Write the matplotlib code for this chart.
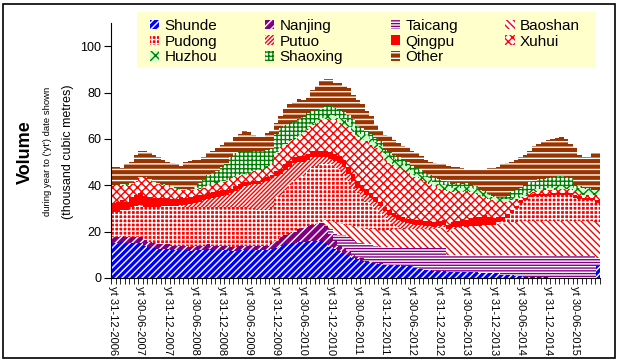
#volumes por regiao - grafico de area empilhada (barras sem espaco)
import numpy as np
import matplotlib
matplotlib.use('Agg')
import matplotlib.pyplot as plt
from matplotlib.patches import Rectangle

plt.rcParams['font.family'] = ['Liberation Sans', 'DejaVu Sans']
plt.rcParams['hatch.linewidth'] = 1.0

#rotulos do eixo x (a cada 6 meses)
rotulos = ['yt 31-12-2006', 'yt 30-06-2007', 'yt 31-12-2007', 'yt 30-06-2008',
           'yt 31-12-2008', 'yt 30-06-2009', 'yt 31-12-2009', 'yt 30-06-2010',
           'yt 31-12-2010', 'yt 30-06-2011', 'yt 31-12-2011', 'yt 30-06-2012',
           'yt 31-12-2012', 'yt 30-06-2013', 'yt 31-12-2013', 'yt 30-06-2014',
           'yt 31-12-2014', 'yt 30-06-2015']

#valores mensais (mil m3), dez/2006 ate nov/2015
shunde = [15, 15, 15.5, 15, 15, 15,
          15, 14, 13.5, 13, 12.5, 12.5,
          12.5, 12, 12, 12, 12, 11.5,
          12, 12, 12, 12.5, 12, 12,
          12, 12, 11.5, 11.5, 12, 12,
          12, 12, 12, 12, 12, 12.5,
          13, 14, 14.5, 15, 15, 15.5,
          15.5, 16, 16, 16, 16, 15,
          13.5, 12.5, 11.5, 11, 10, 8.5,
          8, 7.5, 7, 6.5, 6.5, 6,
          5.5, 5.5, 5.5, 5.5, 5, 5,
          5, 4.5, 4, 3.5, 3.5, 3,
          3, 3, 2.5, 2.5, 2.5, 2.5,
          2.5, 2.5, 2.5, 2, 2, 2,
          2, 2, 1.5, 1.5, 1.5, 1,
          1, 0.5, 0.3, 0.3, 0.3, 0.3,
          0.3, 0.2, 0.2, 0.2, 0.2, 0.2,
          0.2, 0.2, 0.2, 0.2, 0.2, 5]
nanjing = [2.5, 2.5, 2.5, 2.5, 2.5, 2.5,
           2.5, 2.5, 2, 2, 2, 2,
           2, 2, 2, 2, 2, 2,
           2, 2, 2, 2, 2, 2,
           2, 2, 2, 2, 2, 2,
           2, 2, 2, 2, 2, 2.5,
           3, 3.5, 4, 4.5, 5, 5.5,
           6, 6.5, 7, 7.5, 7.5, 7,
           5.5, 3.5, 2.5, 2, 1.5, 1.5,
           1, 1, 0.5, 0.5, 0.5, 0.3,
           0.3, 0.2, 0.2, 0.1, 0.1, 0.1,
           0, 0, 0, 0, 0, 0,
           0, 0, 0, 0, 0, 0,
           0, 0, 0, 0, 0, 0,
           0, 0, 0, 0, 0, 0,
           0, 0, 0, 0, 0, 0,
           0, 0, 0, 0, 0, 0,
           0, 0, 0, 0, 0, 0]
taicang = [0, 0, 0, 0, 0, 0,
           0, 0, 0, 0, 0, 0,
           0, 0, 0, 0, 0, 0,
           0, 0, 0, 0, 0, 0,
           0, 0, 0, 0, 0, 0,
           0, 0, 0, 0, 0, 0,
           0, 0, 0, 0, 0, 0,
           0, 0, 0, 0, 0.5, 1,
           2, 3.5, 4.5, 5.5, 6, 6.5,
           6, 6.5, 7, 7.5, 7, 7,
           7.5, 7.5, 7.5, 7.5, 8, 8,
           8, 8.5, 9, 9.5, 9.5, 10,
           10, 10, 7.5, 7.5, 7.5, 7.5,
           7.5, 7.5, 7.5, 8, 8, 8,
           8, 8, 8.5, 8.5, 8.5, 9,
           9, 9.5, 9.5, 9.5, 9.5, 9.5,
           9.5, 9.5, 9.5, 9.5, 9.5, 9.5,
           9.5, 9.5, 9.5, 9.5, 9.5, 3.5]
baoshan = [0, 0, 0, 0, 0, 0,
           0, 0, 0, 0, 0, 0,
           0, 0, 0, 0, 0, 0,
           0, 0, 0, 0, 0, 0,
           0, 0, 0, 0, 0, 0,
           0, 0, 0, 0, 0, 0,
           0, 0, 0, 0, 0, 0,
           0, 0, 0, 0, 0.5, 2,
           3.5, 4.5, 5, 5, 5.5, 6,
           6.5, 6.5, 6.5, 6.5, 7, 7,
           7.5, 7.5, 8, 8, 8, 8,
           8, 8, 8, 8, 8, 8,
           8.5, 9, 10, 11, 11.5, 12,
           12, 12.5, 12.5, 12.5, 13, 13,
           13, 13.5, 13.5, 14, 14, 14,
           14.5, 14.5, 15, 15, 15, 15,
           15, 15, 15, 15, 15, 15,
           15, 15, 15, 15, 15, 15.5]
pudong = [11, 11, 11.5, 12, 13, 13.5,
          14, 14, 15, 15.5, 16, 16.5,
          16.5, 17, 17, 17, 16.5, 17,
          16.5, 16.5, 16.5, 16, 16.5, 16.5,
          16.5, 16.5, 17, 17, 16.5, 16.5,
          16, 16, 15.5, 15.5, 15.5, 15.5,
          19, 18.5, 19.5, 20.5, 22, 22,
          22.5, 23.5, 25, 25, 24.5, 24,
          24.5, 24, 23.5, 21.5, 19, 16.5,
          15.5, 13.5, 12, 10.5, 9, 7.7,
          5, 3.5, 2, 1, 0.5, 0,
          0, 0, 0, 0, 0, 0,
          0, 0, 0, 0, 0, 0,
          0, 0, 0, 0, 0, 0,
          0, 0.5, 1, 2, 4, 6,
          8, 9, 10, 10.5, 10.5, 10.5,
          10.5, 11, 11, 11, 11, 11,
          10, 9.5, 9, 9, 9, 8.5]
putuo = [0, 0, 0, 0, 0, 0,
         0, 0, 0, 0, 0, 0,
         0, 0, 0, 0.5, 1, 1.5,
         2, 2.5, 3, 3.5, 4, 4.5,
         5, 5.5, 6, 7, 8, 9,
         10, 10.5, 11, 12, 12.5, 12.5,
         9, 9, 8.5, 8, 7.5, 7,
         6, 5, 4, 3.5, 3, 3,
         2.5, 2.5, 2.5, 3, 3, 3,
         2, 2.5, 3, 3, 3, 3,
         3, 3, 3, 3, 2.5, 2.5,
         2.5, 2, 2, 1.5, 1.5, 1,
         1, 1, 1, 1, 0.5, 0.5,
         0, 0, 0, 0, 0, 0,
         0, 0, 0, 0, 0, 0,
         0, 0, 0, 0, 0, 0,
         0, 0, 0, 0, 0, 0,
         0, 0, 0, 0, 0, 0]
qingpu = [4, 4.5, 4, 3.5, 4.5, 5,
          5, 5, 4.5, 4, 4, 3.5,
          3.5, 3, 3, 3.5, 3, 3,
          3, 3, 2.5, 2.5, 2.5, 2.5,
          2.5, 2, 2, 2, 2, 2,
          1.5, 1.5, 1.5, 1.5, 1.5, 1.5,
          2, 2, 2.5, 2.5, 2.5, 2.5,
          2.5, 2.5, 3, 3, 3, 3,
          3, 3, 3, 3, 3, 3,
          3, 2.5, 2.5, 2, 2, 2,
          2, 2, 2, 2, 2, 2,
          2, 2, 2, 2, 2, 2,
          2, 2, 2, 2, 2.5, 3,
          3, 3.5, 4, 4, 4, 3.5,
          3, 2.5, 2, 1.5, 1.5, 1,
          1, 1, 1, 1, 1, 1,
          1, 1, 1, 1, 1, 1,
          1, 1, 1, 1, 1, 1]
xuhui = [7, 6.5, 6.5, 7, 5.5, 5.5,
         6.5, 7.5, 7, 6.5, 6, 5.5,
         5, 5, 4.5, 3, 3.5, 3,
         2.5, 2.5, 3, 3.5, 3.5, 3.5,
         3.5, 4, 4.5, 4, 3.5, 3,
         3.5, 4, 4.5, 4, 4.5, 4.5,
         8, 9, 8.5, 8, 8, 8.5,
         9.5, 10.5, 11, 12, 13, 13.5,
         14, 14.5, 14.5, 15, 17, 18,
         19, 20, 20.5, 21, 21, 21.5,
         20, 20.5, 20.5, 20.5, 20.5, 20,
         19, 18.5, 17.5, 17, 16, 15.5,
         14, 13, 14.5, 13, 13, 11.5,
         12.5, 11, 10, 9.5, 8, 7.5,
         7.5, 6.5, 6.5, 5.5, 4, 3,
         1.5, 1, 1, 1, 1.2, 1.5,
         1.7, 1.3, 1.8, 1.8, 1.8, 1.8,
         1.3, 1.3, 1.3, 1.3, 1.3, 2.5]
huzhou = [0.5, 0.5, 0.5, 0.5, 0.5, 0.5,
          0.5, 0.5, 0.5, 0.5, 0.5, 0.5,
          0.5, 0.5, 0.5, 0.5, 0.5, 0.5,
          0.3, 0.3, 0.3, 0.3, 0.3, 0.3,
          0.3, 0.3, 0.3, 0.3, 0.3, 0.3,
          0.3, 0.3, 0.3, 0.3, 0.3, 0.3,
          0.5, 0.5, 0.5, 0.5, 0.5, 0.5,
          1, 1, 1, 1, 1, 1.5,
          2, 2, 2, 2.5, 2.5, 2.5,
          2, 2, 2.5, 2.5, 2.5, 2.5,
          2.5, 2.5, 2.5, 2.5, 2.5, 2.5,
          2, 2, 2, 2, 2, 2,
          2, 2, 2, 2, 2, 2,
          2, 2, 2, 2, 2, 2,
          1.5, 1.5, 1, 1, 1, 1,
          1, 1, 1, 1, 1, 1,
          1, 1, 1, 1, 1, 1,
          2, 2.5, 2.5, 2.5, 2, 2]
shaoxing = [0, 0, 0, 0, 0, 0,
            0, 0, 0, 0, 0, 0,
            0, 0, 0, 0, 0, 0,
            1, 2, 3, 4, 4.5, 5,
            6, 7, 9, 10, 10, 9.5,
            9, 8.5, 8, 7.5, 7, 6.5,
            7.5, 8, 8, 7.5, 7, 7,
            6.5, 6, 5, 4.5, 4, 4,
            3.5, 3.5, 3.5, 3, 3, 3,
            2.5, 2.5, 2, 2, 2, 2,
            2, 2, 2, 2, 2, 2,
            2, 2, 2, 2, 2, 2,
            2, 2, 2, 1.5, 1.5, 1.5,
            1.5, 1, 1, 0.5, 0.5, 0.5,
            0.5, 0.5, 1, 1.5, 2.5, 3,
            3, 3.5, 3.5, 3.5, 4, 4,
            4, 4.5, 4.5, 4.5, 4, 3.5,
            1, 0.5, 0.5, 0.5, 0.5, 0.5]
outros = [8, 8, 7, 8.5, 9, 11,
          11.5, 11.5, 12, 11.5, 11, 10.5,
          10, 10, 10, 10, 11.5, 12,
          11.7, 10.2, 9.7, 9.7, 9.7, 9.7,
          9.7, 9.2, 6.7, 7.2, 7.7, 9.7,
          8.7, 6.7, 6.2, 6.2, 7.2, 7.7,
          5, 5.5, 7, 8.5, 8.5, 8.5,
          7.5, 7, 9, 10.5, 12, 12,
          12, 10.5, 11.5, 11.5, 11.5, 10.5,
          11.5, 10.5, 8.5, 8, 5.5, 5,
          6.5, 7, 6.5, 6, 6, 6.5,
          6.5, 6.5, 6, 5.5, 5.5, 6,
          6.5, 7, 7, 7.5, 7, 7,
          6, 7, 7.5, 8, 9.5, 11,
          12, 13, 14, 14, 13, 13,
          13, 13, 13.7, 15.2, 15.5, 15.7,
          16.5, 16.5, 16.5, 17, 16.5, 15,
          16.5, 13.5, 13, 13, 15.5, 15.5]

nomes = ['Shunde', 'Nanjing', 'Taicang', 'Baoshan', 'Pudong', 'Putuo',
         'Qingpu', 'Xuhui', 'Huzhou', 'Shaoxing', 'Other']
series = [shunde, nanjing, taicang, baoshan, pudong, putuo,
          qingpu, xuhui, huzhou, shaoxing, outros]

#estilo: (cor de fundo, cor da hachura, hachura)
estilos = [('#0000FF', 'white', '/////'),
           ('#800080', 'white', '////'),
           ('white', '#800080', '------'),
           ('white', '#FF0000', '\\\\\\\\\\'),
           ('#FF0000', 'white', '++++'),
           ('white', '#FF0000', '////////'),
           ('#FF0000', '#FF0000', ''),
           ('white', '#FF0000', 'xxxx'),
           ('#CCFFCC', '#008000', 'xxx'),
           ('white', '#008000', '++++'),
           ('#993300', 'white', '---')]

fig = plt.figure(figsize=(6.22, 3.63), dpi=100)
ax = fig.add_axes([111/622, 1-278/363, 489/622, 255/363])

x = np.arange(len(shunde))
base = np.zeros(len(shunde))
for vals, (fc, hc, hatch) in zip(series, estilos):
    vals = np.array(vals, dtype=float)
    #largura um pouco maior que 1 para nao sobrar fresta entre barras
    ax.bar(x, vals, width=1.06, bottom=base, color=fc, edgecolor=hc,
           hatch=hatch, linewidth=0, antialiased=False)
    base += vals

ax.set_xlim(-0.5, len(shunde)-0.5)
ax.set_ylim(0, 110)
ax.set_yticks([0, 20, 40, 60, 80, 100])
ax.tick_params(axis='y', length=5, labelsize=9, pad=2)
ax.set_xticks(range(0, 108, 6))
ax.set_xticklabels(rotulos, rotation=270, fontsize=8, ha='center', va='top')
ax.set_xticks(np.arange(-0.5, len(shunde), 1), minor=True)
ax.tick_params(axis='x', which='major', length=0, pad=6)
ax.tick_params(axis='x', which='minor', length=4)
ax.spines['top'].set_visible(False)
ax.spines['right'].set_visible(False)

#titulos do eixo y
fig.text(25/622, 1-152/363, 'Volume', rotation=90, ha='center', va='center',
         fontsize=13, fontweight='bold')
fig.text(47/622, 1-151/363, "during year to ('yt') date shown", rotation=90,
         ha='center', va='center', fontsize=6.8)
fig.text(68/622, 1-152/363, '(thousand cubic metres)', rotation=90,
         ha='center', va='center', fontsize=9)

#fundo amarelo da legenda
fig.patches.append(Rectangle((137/622, 1-67/363), 458/622, 55/363,
                             transform=fig.transFigure, facecolor='#FFFFCC',
                             edgecolor='none', zorder=4))

#legenda em linhas (matplotlib preenche por coluna)
ordem = [0, 4, 8, 1, 5, 9, 2, 6, 10, 3, 7]
handles = []
labels = []
for k in ordem:
    fc, hc, hatch = estilos[k]
    handles.append(Rectangle((0, 0), 1, 1, facecolor=fc, edgecolor=hc,
                             hatch=hatch, linewidth=0))
    labels.append(nomes[k])
leg = fig.legend(handles, labels, loc='upper left',
                 bbox_to_anchor=(150/622, 1-67/363, 430/622, 48/363),
                 mode='expand', ncol=4, frameon=False,
                 fontsize=11, handlelength=0.6, handleheight=0.6,
                 handletextpad=0.35, labelspacing=0.1, borderpad=0.0,
                 borderaxespad=0, columnspacing=0.5)
leg.set_zorder(5)

#moldura
fig.patches.append(Rectangle((3/622, 1-358/363), 612/622, 354/363,
                             transform=fig.transFigure, fill=False,
                             edgecolor='black', linewidth=1.2))

plt.savefig('out.png', dpi=100)
